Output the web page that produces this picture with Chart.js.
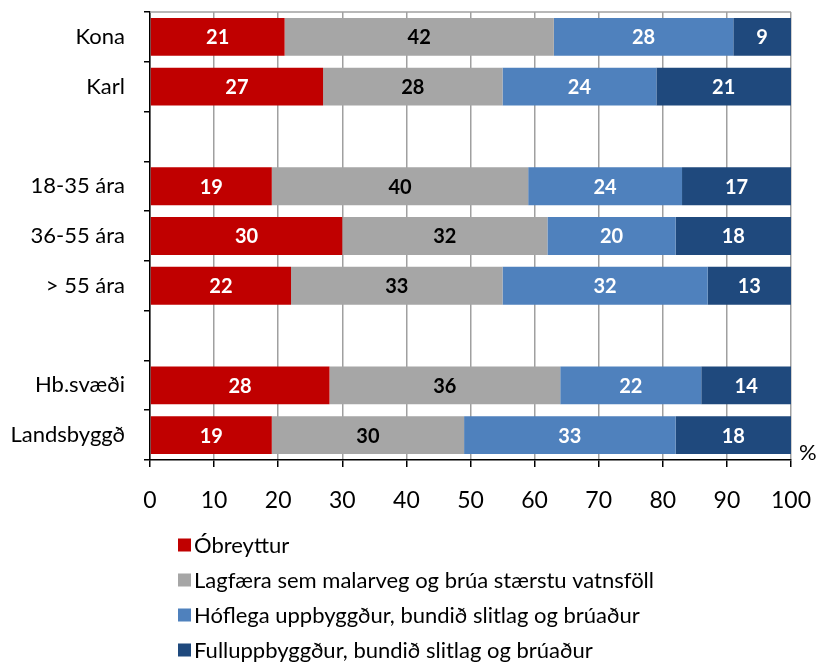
<!DOCTYPE html>
<html>
<head>
<meta charset="utf-8">
<script src="https://cdn.jsdelivr.net/npm/chart.js@4"></script>
<style>
html,body{margin:0;padding:0;background:#fff;}
#wrap{width:838px;height:664px;}
</style>
</head>
<body>
<div id="wrap"><canvas id="c" width="838" height="664"></canvas></div>
<script>
const categories = ['Kona', 'Karl', '', '18-35 ára', '36-55 ára', '> 55 ára', '', 'Hb.svæði', 'Landsbyggð'];
const seriesNames = ['Óbreyttur', 'Lagfæra sem malarveg og brúa stærstu vatnsföll', 'Hóflega uppbyggður, bundið slitlag og brúaður', 'Fulluppbyggður, bundið slitlag og brúaður'];
const obreyttur = [21, 27, null, 19, 30, 22, null, 28, 19];
const lagfaera  = [42, 28, null, 40, 32, 33, null, 36, 30];
const hoflega   = [28, 24, null, 24, 20, 32, null, 22, 33];
const fullupp   = [9, 21, null, 17, 18, 13, null, 14, 18];
const xTicks = [0, 10, 20, 30, 40, 50, 60, 70, 80, 90, 100];
const colors = ['#C00000', '#A6A6A6', '#4F81BD', '#1F497D'];
const labelColors = ['#FFFFFF', '#000000', '#FFFFFF', '#FFFFFF'];
const FONT = 'Lato, "Open Sans", sans-serif';

const valueLabels = {
  id: 'valueLabels',
  afterDatasetsDraw(chart) {
    const ctx = chart.ctx;
    ctx.save();
    ctx.font = 'bold 20px ' + FONT;
    ctx.textAlign = 'center';
    ctx.textBaseline = 'middle';
    chart.data.datasets.forEach((ds, di) => {
      const meta = chart.getDatasetMeta(di);
      meta.data.forEach((bar, i) => {
        const v = ds.data[i];
        if (v == null) return;
        const p = bar.getProps(['x', 'y', 'base'], true);
        ctx.fillStyle = labelColors[di];
        ctx.fillText(String(v), (p.x + p.base) / 2, p.y + 1);
      });
    });
    ctx.restore();
  }
};

const extras = {
  id: 'extras',
  beforeDatasetsDraw(chart) {
    const a = chart.chartArea, ctx = chart.ctx;
    ctx.save();
    ctx.strokeStyle = '#A0A0A0';
    ctx.lineWidth = 1.5;
    ctx.beginPath();
    ctx.moveTo(a.left, a.top);
    ctx.lineTo(a.right, a.top);
    ctx.stroke();
    ctx.restore();
  },
  afterDraw(chart) {
    const a = chart.chartArea, ctx = chart.ctx;
    ctx.save();
    ctx.fillStyle = '#000';
    ctx.font = '22px ' + FONT;
    ctx.textAlign = 'left';
    ctx.textBaseline = 'middle';
    ctx.fillText('%', a.right + 8, a.bottom - 7);
    // legend
    ctx.font = '22px ' + FONT;
    const lx = 178, ly0 = 545, step = 35, box = 13;
    seriesNames.forEach((n, i) => {
      const y = ly0 + i * step;
      ctx.fillStyle = colors[i];
      ctx.fillRect(lx, y - box / 2, box, box);
      ctx.fillStyle = '#000';
      ctx.fillText(n, lx + box + 3, y + 1);
    });
    ctx.restore();
  }
};

new Chart(document.getElementById('c'), {
  type: 'bar',
  data: {
    labels: categories,
    datasets: seriesNames.map((n, i) => ({
      label: n,
      data: [obreyttur, lagfaera, hoflega, fullupp][i],
      backgroundColor: colors[i],
      borderWidth: 0,
      categoryPercentage: 1,
      barPercentage: 0.76
    }))
  },
  options: {
    indexAxis: 'y',
    responsive: false,
    animation: false,
    devicePixelRatio: 1,
    layout: { padding: { top: 12, right: 47, bottom: 149, left: 0 } },
    plugins: { legend: { display: false }, tooltip: { enabled: false } },
    scales: {
      x: {
        stacked: true,
        min: 0, max: 100,
        afterBuildTicks(scale) { scale.ticks = xTicks.map(v => ({ value: v })); },
        afterFit(scale) { scale.height = 55; scale.paddingLeft = 0; scale.paddingRight = 0; },
        grid: { color: '#A0A0A0', lineWidth: 1.5, tickColor: '#000', tickLength: 7, drawTicks: true },
        border: { color: '#000', width: 1.5 },
        ticks: { color: '#000', font: { family: FONT, size: 23 }, padding: 20, autoSkip: false }
      },
      y: {
        stacked: true,
        afterFit(scale) { scale.width = 150; scale.paddingTop = 0; scale.paddingBottom = 0; },
        grid: { offset: true, drawOnChartArea: false, tickColor: '#000', tickLength: 6, lineWidth: 1.5 },
        border: { color: '#000', width: 1.5 },
        ticks: { color: '#000', font: { family: FONT, size: 22 }, padding: 19, autoSkip: false }
      }
    }
  },
  plugins: [valueLabels, extras]
});
</script>
</body>
</html>
